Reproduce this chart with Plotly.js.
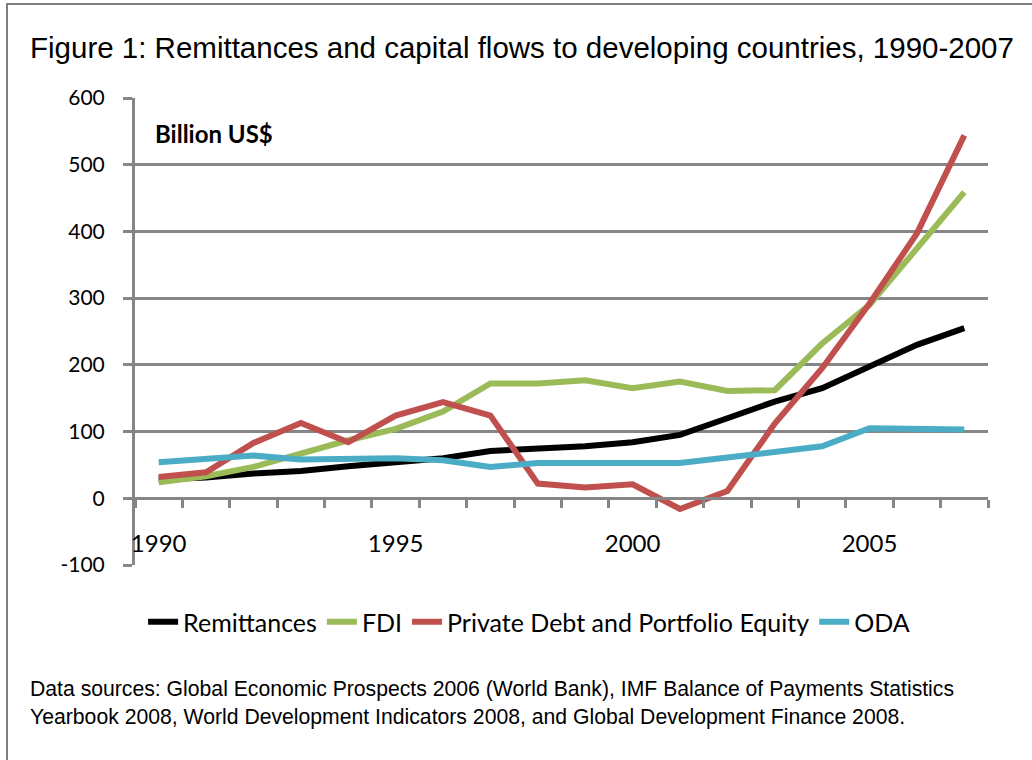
<!DOCTYPE html>
<html>
<head>
<meta charset="utf-8">
<script src="https://cdn.plot.ly/plotly-3.0.1.min.js"></script>
<style>
html,body{margin:0;padding:0;background:#fff;}
#chart{width:1032px;height:760px;}
</style>
</head>
<body>
<div id="chart"></div>
<script>
const years = [1990,1991,1992,1993,1994,1995,1996,1997,1998,1999,2000,2001,2002,2003,2004,2005,2006,2007];
const remittances = [28,31,37,41,48,54,60,71,74,78,84,95,120,145,165,197,230,255];
const fdi = [24,33,47,67,87,104,130,172,172,177,165,175,161,162,232,290,375,459];
const privateDebtEquity = [32,39,83,113,84,124,144,124,22,16,21,-16,11,112,195,292,397,544];
const oda = [54,60,64,58,59,60,57,47,53,53,53,53,61,69,78,105,103,103];
const xLabelYears = [1990,1995,2000,2005];
const yTickValues = [-100,0,100,200,300,400,500,600];
const yTickLabels = ["-100","0","100","200","300","400","500","600"];
const seriesNames = ["Remittances","FDI","Private Debt and Portfolio Equity","ODA"];
const seriesColors = ["#000000","#9BBB59","#C0504D","#4BACC6"];
const seriesValues = [remittances, fdi, privateDebtEquity, oda];

const traces = seriesValues.map((vals, i) => ({
  type: "scatter", mode: "lines", x: years, y: vals, name: seriesNames[i],
  line: {color: seriesColors[i], width: 6}, xaxis: "x", yaxis: "y"
}));

const gray = "#868686";
const xRange = [years[0]-0.5, years[years.length-1]+0.5];
const yMin = yTickValues[0], yMax = yTickValues[yTickValues.length-1];
const zeroPos = (0 - yMin) / (yMax - yMin);

const layout = {
  width: 1032, height: 760,
  margin: {l: 135, r: 44, t: 98, b: 195},
  paper_bgcolor: "#ffffff", plot_bgcolor: "#ffffff",
  showlegend: true,
  title: {
    text: "Figure 1: Remittances and capital flows to developing countries, 1990-2007",
    font: {family: "Liberation Sans, Arial, sans-serif", size: 29.5, color: "#000"},
    xref: "container", x: 30/1032, xanchor: "left",
    yref: "container", y: 1 - 48/760, yanchor: "middle"
  },
  xaxis: {
    range: xRange, anchor: "free", position: zeroPos,
    showline: true, linecolor: gray, linewidth: 3,
    showgrid: false, zeroline: false,
    ticks: "outside", tickmode: "linear", tick0: xRange[0], dtick: 1,
    ticklen: 8, tickwidth: 3, tickcolor: gray,
    showticklabels: false, fixedrange: true
  },
  xaxis2: {
    overlaying: "x", range: xRange, anchor: "free", position: zeroPos,
    showline: false, showgrid: false, zeroline: false,
    tickmode: "array", tickvals: xLabelYears, ticktext: xLabelYears.map(String),
    ticks: "", ticklabelstandoff: 29,
    tickfont: {family: "Lato, Carlito, Calibri, sans-serif", size: 24, color: "#000"}
  },
  yaxis: {
    range: [yMin, yMax], tickmode: "array", tickvals: yTickValues, ticktext: yTickLabels,
    showline: true, linecolor: gray, linewidth: 3,
    showgrid: true, gridcolor: gray, gridwidth: 3, zeroline: false,
    ticks: "outside", ticklen: 9, tickwidth: 3, tickcolor: gray,
    ticklabelstandoff: 14,
    tickfont: {family: "Lato, Carlito, Calibri, sans-serif", size: 21, color: "#000"}
  },
  legend: {
    orientation: "h", x: 0.462, xanchor: "center", y: (565-622)/467, yanchor: "middle",
    font: {family: "Lato, Carlito, Calibri, sans-serif", size: 25, color: "#000"},
    itemwidth: 30, tracegroupgap: 0, bgcolor: "rgba(0,0,0,0)"
  },
  annotations: [
    {text: "<b>Billion US$</b>", xref: "paper", yref: "paper",
     x: (153-135)/853, xanchor: "left", y: (565-133)/467, yanchor: "middle",
     showarrow: false, font: {family: "Lato, Carlito, Calibri, sans-serif", size: 24, color: "#000"}},
    {text: "Data sources: Global Economic Prospects 2006 (World Bank), IMF Balance of Payments Statistics<br>Yearbook 2008, World Development Indicators 2008, and Global Development Finance 2008.",
     xref: "paper", yref: "paper", x: (28-135)/853, xanchor: "left",
     y: (565-703)/467, yanchor: "middle", align: "left", showarrow: false,
     font: {family: "Liberation Sans, Arial, sans-serif", size: 21.2, color: "#000"}}
  ],
  shapes: [
    {type: "rect", xref: "paper", yref: "paper",
     x0: (7-135)/853, x1: (1100-135)/853, y0: (565-900)/467, y1: (565-4)/467,
     line: {color: "#7f7f7f", width: 2}, fillcolor: "rgba(0,0,0,0)", layer: "below"}
  ]
};

// empty helper trace so the label axis (xaxis2) is drawn
traces.push({type: "scatter", mode: "lines", x: xRange, y: [null, null], xaxis: "x2", yaxis: "y",
  showlegend: false, hoverinfo: "skip", line: {width: 0}});

Plotly.newPlot("chart", traces, layout, {displayModeBar: false, staticPlot: true});
</script>
</body>
</html>
